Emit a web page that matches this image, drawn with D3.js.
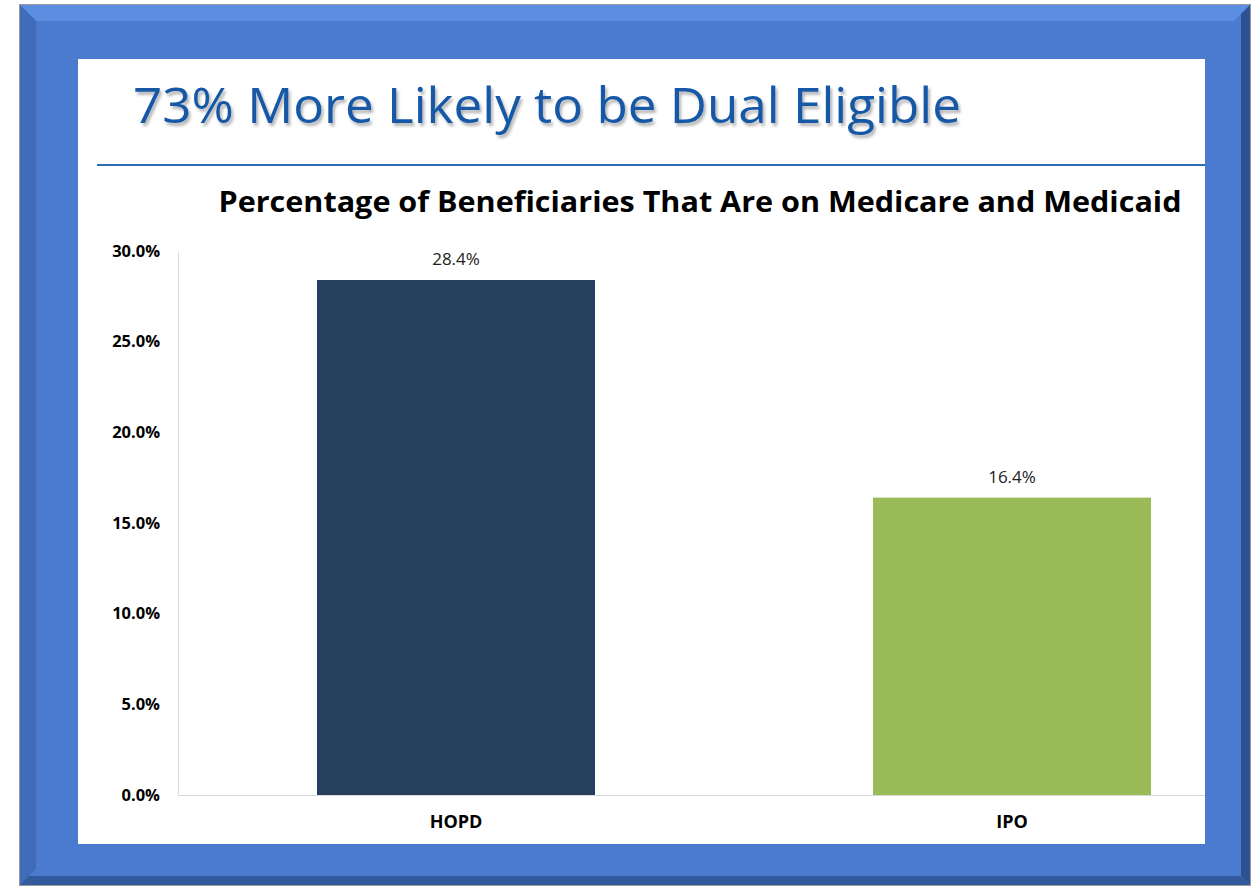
<!DOCTYPE html>
<html>
<head>
<meta charset="utf-8">
<script src="https://cdn.jsdelivr.net/npm/d3@7.9.0/dist/d3.min.js"></script>
<style>
  body { margin: 0; background: #fff; }
  svg { display: block; }
</style>
</head>
<body>
<svg id="chart" width="1253" height="886"></svg>
<script>
const categories = ['HOPD', 'IPO'];
const values = [28.4, 16.4];
const colors = ['#263f5f', '#9bbb59'];
const yTicks = [0, 5, 10, 15, 20, 25, 30];

const svg = d3.select('#chart');

// blue bevelled frame
const fx0 = 20, fy0 = 5, fx1 = 1250, fy1 = 885, bev = 16;
svg.append('rect')
  .attr('x', fx0 - 1).attr('y', fy0 - 1)
  .attr('width', fx1 - fx0 + 2).attr('height', fy1 - fy0 + 2)
  .attr('fill', '#9a9a9a');
svg.append('rect')
  .attr('x', fx0).attr('y', fy0)
  .attr('width', fx1 - fx0).attr('height', fy1 - fy0)
  .attr('fill', '#4a7bcf');
// top bevel (light)
svg.append('polygon')
  .attr('points', [[fx0, fy0], [fx1, fy0], [fx1 - bev, fy0 + bev], [fx0 + bev, fy0 + bev]].join(' '))
  .attr('fill', '#5b8de0');
// left bevel (darker)
svg.append('polygon')
  .attr('points', [[fx0, fy0], [fx0 + bev, fy0 + bev], [fx0 + bev, fy1 - bev], [fx0, fy1]].join(' '))
  .attr('fill', '#3f6bb8');
// right bevel (dark)
svg.append('polygon')
  .attr('points', [[fx1, fy0], [fx1, fy1], [fx1 - 9, fy1 - 9], [fx1 - 9, fy0 + 9]].join(' '))
  .attr('fill', '#2f5192');
// bottom bevel (dark)
svg.append('polygon')
  .attr('points', [[fx0, fy1], [fx1, fy1], [fx1 - 9, fy1 - 9], [fx0 + 9, fy1 - 9]].join(' '))
  .attr('fill', '#345a9e');

// white panel
const px0 = 78, py0 = 59, px1 = 1205, py1 = 844;
svg.append('defs').append('clipPath').attr('id', 'panel')
  .append('rect').attr('x', px0).attr('y', py0)
  .attr('width', px1 - px0).attr('height', py1 - py0);
svg.append('defs').append('filter').attr('id', 'shadow')
  .append('feDropShadow').attr('dx', 2).attr('dy', 3)
  .attr('stdDeviation', 1.5).attr('flood-color', '#000').attr('flood-opacity', 0.3);

svg.append('rect')
  .attr('x', px0).attr('y', py0)
  .attr('width', px1 - px0).attr('height', py1 - py0)
  .attr('fill', '#fff');

// slide title
svg.append('text')
  .attr('x', 133).attr('y', 123)
  .attr('font-family', 'Open Sans, sans-serif')
  .attr('font-size', 50)
  .attr('font-weight', 500)
  .attr('fill', '#1858a6')
  .attr('filter', 'url(#shadow)')
  .attr('textLength', 828)
  .attr('lengthAdjust', 'spacingAndGlyphs')
  .text('73% More Likely to be Dual Eligible');

svg.append('line')
  .attr('x1', 97).attr('x2', px1)
  .attr('y1', 165).attr('y2', 165)
  .attr('stroke', '#2b6cb3').attr('stroke-width', 2);

// chart title
svg.append('text')
  .attr('x', 700).attr('y', 212)
  .attr('text-anchor', 'middle')
  .attr('font-family', 'Open Sans, sans-serif')
  .attr('font-weight', 'bold')
  .attr('font-size', 28)
  .attr('fill', '#000')
  .attr('textLength', 963)
  .attr('lengthAdjust', 'spacingAndGlyphs')
  .text('Percentage of Beneficiaries That Are on Medicare and Medicaid');

// plot
const g = svg.append('g').attr('clip-path', 'url(#panel)');
const x = d3.scaleBand().domain(categories).range([178, 1290]).paddingInner(0.5).paddingOuter(0.25);
const y = d3.scaleLinear().domain([0, 30]).range([795, 251]);

g.selectAll('rect.bar')
  .data(values)
  .join('rect')
  .attr('class', 'bar')
  .attr('x', (d, i) => x(categories[i]))
  .attr('width', x.bandwidth())
  .attr('y', d => y(d))
  .attr('height', d => y(0) - y(d))
  .attr('fill', (d, i) => colors[i]);

g.selectAll('text.val')
  .data(values)
  .join('text')
  .attr('class', 'val')
  .attr('x', (d, i) => x(categories[i]) + x.bandwidth() / 2)
  .attr('y', d => y(d) - 15)
  .attr('text-anchor', 'middle')
  .attr('font-family', 'Open Sans, sans-serif')
  .attr('font-size', 17)
  .attr('fill', '#222')
  .text(d => d.toFixed(1) + '%');

// axes
const yAxis = g.append('g').attr('transform', 'translate(178,0)')
  .call(d3.axisLeft(y).tickValues(yTicks).tickSize(0).tickPadding(18)
    .tickFormat(d => d.toFixed(1) + '%'));
yAxis.select('.domain').attr('stroke', '#d9d9d9');
yAxis.selectAll('text')
  .attr('font-family', 'Open Sans, sans-serif')
  .attr('font-weight', 'bold')
  .attr('font-size', 16.5)
  .attr('fill', '#000');

const xAxis = g.append('g').attr('transform', 'translate(0,795)')
  .call(d3.axisBottom(x).tickSize(0).tickPadding(20));
xAxis.select('.domain').attr('stroke', '#d9d9d9');
xAxis.selectAll('text')
  .attr('font-family', 'Open Sans, sans-serif')
  .attr('font-weight', 'bold')
  .attr('font-size', 18)
  .attr('fill', '#000');
</script>
</body>
</html>
